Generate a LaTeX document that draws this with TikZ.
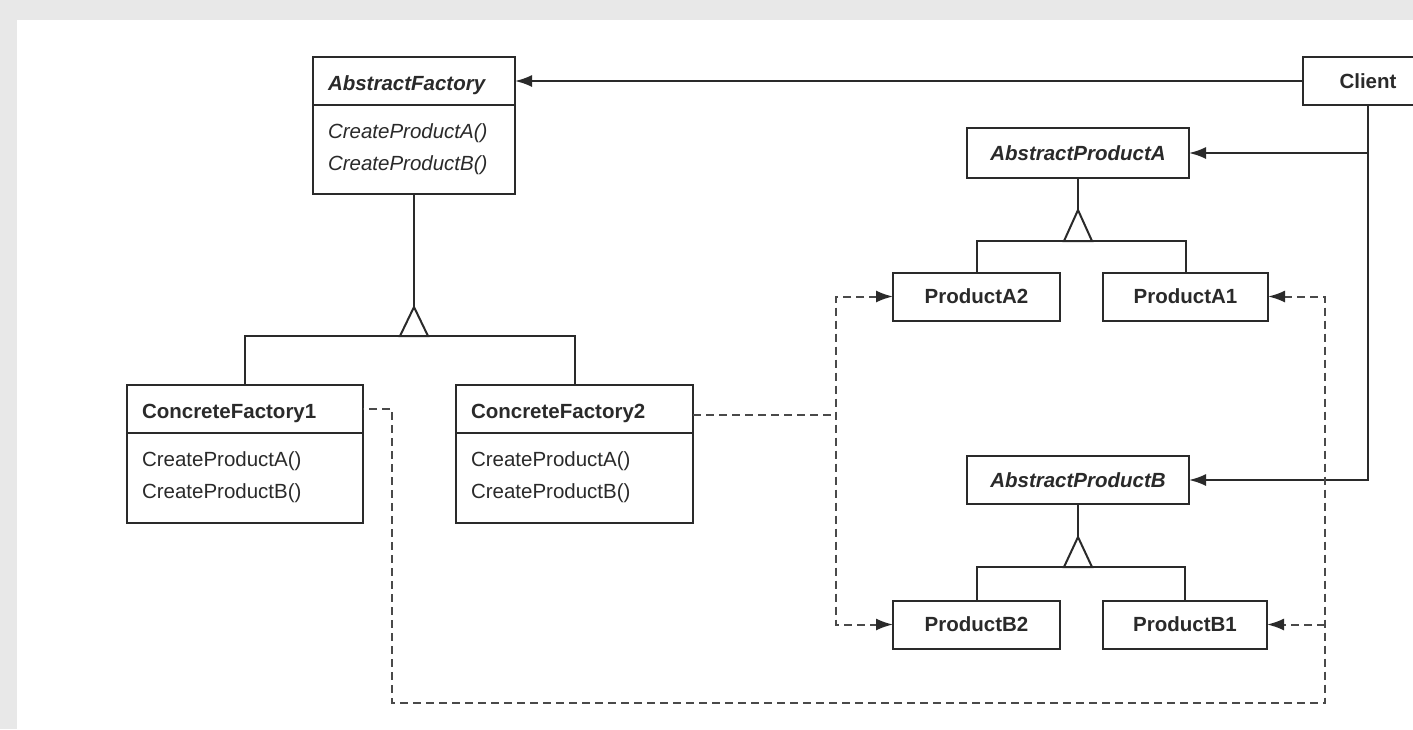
\documentclass[tikz,border=0pt]{standalone}
\usepackage{fontspec}
\setmainfont{Liberation Sans}
\usetikzlibrary{positioning,arrows.meta}

\definecolor{ink}{HTML}{2A2A2A}
\definecolor{dash}{HTML}{4A4A4A}
\definecolor{paper}{HTML}{E8E8E8}
\newcommand{\umlsize}{\fontsize{20.5}{32}\selectfont}

\tikzstyle{H} = [rectangle,
			draw, fill=white,
			align=left, font=\umlsize\bfseries,
			text height=19pt, text depth=0pt,
			minimum height=48pt, inner xsep=15pt, inner ysep=0pt, outer sep=0pt]
\tikzstyle{B} = [rectangle,
			draw, fill=white,
			align=left, font=\umlsize,
			inner xsep=15pt, inner ysep=0pt, outer sep=0pt]
\tikzstyle{P} = [rectangle,
			draw, fill=white,
			text centered, font=\umlsize\bfseries,
			minimum height=48pt, inner sep=0pt, outer sep=0pt]
\tikzstyle{D} = [draw=dash, dash pattern=on 8pt off 5pt]

\begin{document}
\begin{tikzpicture}[x=1pt, y=-1pt, color=ink, line width=2pt,
			>={Latex[length=17pt,width=12pt,color=ink]}]

\useasboundingbox (0,0) rectangle (1413,729);
\fill [paper] (0,0) rectangle (1413,729);
\fill [white] (17,20) rectangle (1413,729);

% factories
\node [H, text width=172pt, font=\umlsize\bfseries\itshape]
(afh) at (414,81)
	{AbstractFactory};

\node [B, text width=172pt, minimum height=89pt, font=\umlsize\itshape, below=0pt of afh]
(afb)
	{CreateProductA()\\CreateProductB()};

\node [H, text width=206pt]
(cf1h) at (245,408.5)
	{ConcreteFactory1};

\node [B, text width=206pt, minimum height=90pt, below=0pt of cf1h]
(cf1b)
	{CreateProductA()\\CreateProductB()};

\node [H, text width=207pt]
(cf2h) at (574.5,408.5)
	{ConcreteFactory2};

\node [B, text width=207pt, minimum height=90pt, below=0pt of cf2h]
(cf2b)
	{CreateProductA()\\CreateProductB()};

% client and products
\node [P, minimum width=130pt]
(cli) at (1368,81)
	{Client};

\node [P, minimum width=222pt, minimum height=50pt, font=\umlsize\bfseries\itshape]
(apa) at (1078,153)
	{AbstractProductA};

\node [P, minimum width=167pt]
(pa2) at (976.5,296.5)
	{ProductA2};

\node [P, minimum width=165pt]
(pa1) at (1185.5,296.5)
	{ProductA1};

\node [P, minimum width=222pt, font=\umlsize\bfseries\itshape]
(apb) at (1078,480)
	{AbstractProductB};

\node [P, minimum width=167pt]
(pb2) at (976.5,624.5)
	{ProductB2};

\node [P, minimum width=164pt]
(pb1) at (1185,624.5)
	{ProductB1};

% inheritance
\coordinate [below=113pt of afb] (taf);
\coordinate [below=29pt of taf] (tafb);
\coordinate [below=32pt of apa] (tpa);
\coordinate [below=31pt of tpa] (tpab);
\coordinate [below=33pt of apb] (tpb);
\coordinate [below=30pt of tpb] (tpbb);

\path[draw] (afb) -- (taf);
\path[draw] (taf) -- ([xshift=-14pt]tafb) -- ([xshift=14pt]tafb) -- cycle;
\path[draw] (cf1h) |- (tafb) -| (cf2h);

\path[draw] (apa) -- (tpa);
\path[draw] (tpa) -- ([xshift=-14pt]tpab) -- ([xshift=14pt]tpab) -- cycle;
\path[draw] (pa2) |- (tpab) -| (pa1);

\path[draw] (apb) -- (tpb);
\path[draw] (tpb) -- ([xshift=-14pt]tpbb) -- ([xshift=14pt]tpbb) -- cycle;
\path[draw] (pb2) |- (tpbb) -| (pb1);

% client uses
\path[draw, ->] (cli) -- (afh);
\path[draw, ->] (cli) |- (apb);
\path[draw, ->] (cli |- apa) -- (apa);

% creates
\coordinate [right=143pt of cf2h, yshift=-6pt] (dl);
\coordinate [right=29pt of cf1h] (dc);
\coordinate (dr) at (1325,703);

\path[D] (cf2h.east |- dl) -- (dl);
\path[D, <->] (pa2) -| (dl) |- (pb2);
\path[D, <-] (pa1) -| (dr) -| (dc) -- (cf1h);
\path[D, ->] (pb1 -| dr) -- (pb1);

\end{tikzpicture}
\end{document}
